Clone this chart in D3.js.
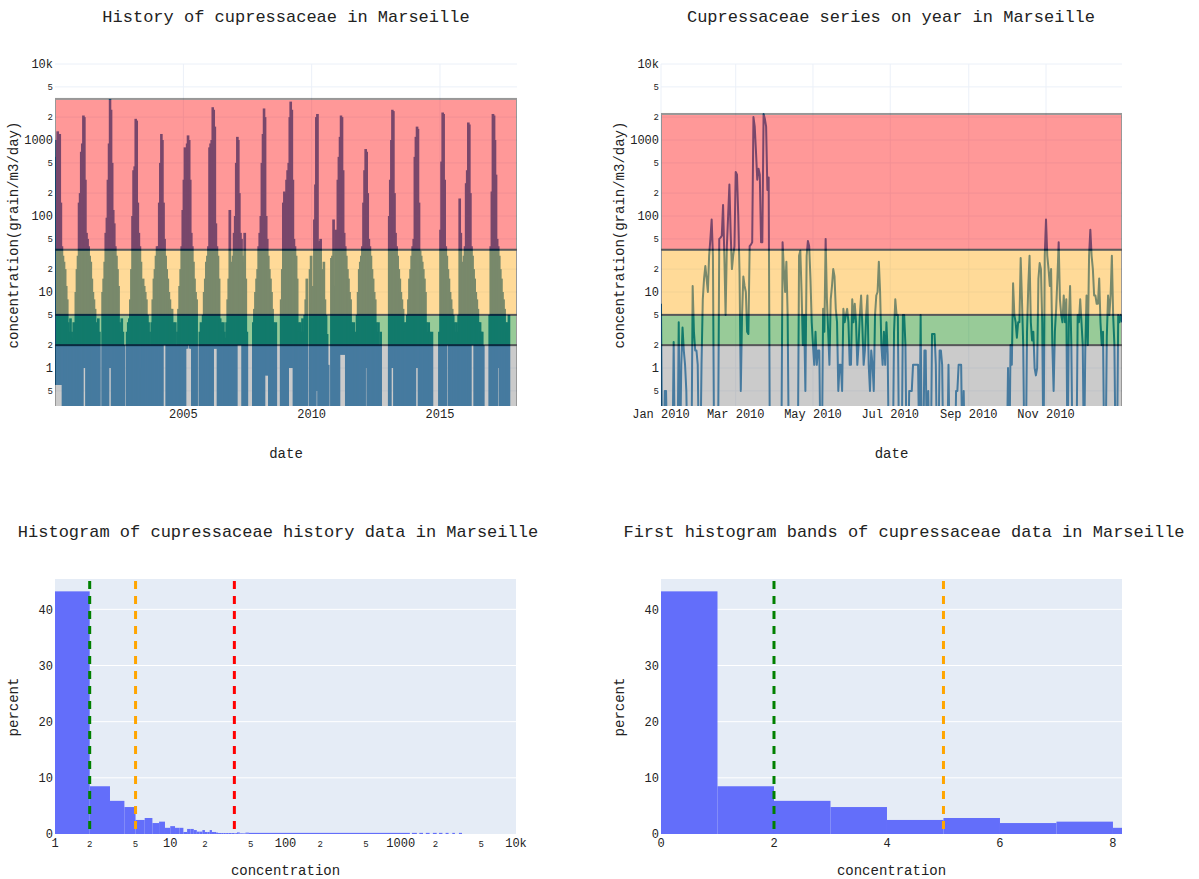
<!DOCTYPE html>
<html>
<head>
<meta charset="utf-8">
<script src="https://cdn.jsdelivr.net/npm/d3@7"></script>
<style>
  body { margin: 0; background: #fff; }
  text { font-family: "Liberation Mono", "Courier New", monospace; fill: #222; }
</style>
</head>
<body>
<svg id="chart" width="1199" height="879"></svg>
<script>
// ---- data ----
const thresholds = [2, 5, 36];
const bandColors = ["rgb(128,128,128)", "rgb(0,128,0)", "rgb(255,165,0)", "rgb(255,0,0)"];

// history: max of each half month (Jan 1-15, Jan 16-31, ...), grain/m3/day
const peaks2000 = [600, 1000, 1300, 900, 1200, 150, 40, 30, 25, 20, 12, 8, 4, 3, 4.5, 3, 2.5, 4, 3, 10, 20, 30, 150, 200];
const peaks2001 = [700, 900, 2100, 2000, 300, 60, 50, 40, 30, 25, 15, 10, 8, 6, 4, 3, 4.5, 3, 0, 0, 10, 15, 25, 60];
const peaks2002 = [95, 300, 900, 3470, 2500, 500, 120, 80, 40, 30, 20, 12, 4, 3, 4.5, 3, 2, 0, 0, 3, 4, 4.5, 8, 20];
const peaks2003 = [100, 400, 450, 1900, 1800, 150, 60, 40, 25, 4, 15, 12, 10, 8, 5, 4, 3, 2, 4, 8, 15, 20, 30, 40];
const peaks2004 = [40, 150, 500, 1200, 1000, 150, 50, 30, 20, 15, 10, 8, 6, 6, 4, 3, 4, 2, 3, 6, 12, 20, 40, 120];
const peaks2005 = [300, 800, 700, 900, 1150, 1000, 300, 60, 40, 25, 15, 10, 8, 0, 0, 3, 4, 3, 5, 10, 15, 25, 30, 40];
const peaks2006 = [800, 900, 1000, 2700, 2500, 1500, 80, 40, 30, 15, 4.5, 4, 3, 4, 3, 2.5, 4, 8, 15, 120, 20, 25, 30, 60];
const peaks2007 = [100, 500, 1100, 1000, 200, 60, 50, 30, 25, 60, 15, 3, 0, 0, 0, 0, 0, 4, 6, 10, 15, 20, 40, 60];
const peaks2008 = [100, 500, 1200, 2600, 2000, 100, 50, 30, 20, 15, 10, 6, 4, 3, 4, 0, 0, 0, 0, 8, 20, 150, 210, 200];
const peaks2009 = [300, 400, 500, 2000, 3200, 2500, 300, 50, 40, 30, 15, 4, 3, 4, 3, 4.5, 3, 5, 8, 15, 0, 0, 20, 30];
const peaks2010 = [7, 12, 90, 260, 2000, 2200, 45, 47, 50, 20, 9, 25, 8, 5, 2.8, 1.1, 0, 0, 28, 30, 90, 12, 66, 30];
const peaks2011 = [300, 600, 1100, 2100, 2000, 400, 60, 40, 30, 20, 15, 10, 8, 4, 3, 4, 3, 2, 5, 10, 20, 25, 30, 40];
const peaks2012 = [150, 400, 760, 700, 200, 50, 40, 30, 20, 15, 10, 8, 4, 3, 4, 2, 3, 0, 0, 0, 0, 0, 0, 0];
const peaks2013 = [100, 300, 1000, 2500, 2400, 200, 60, 40, 30, 20, 15, 10, 8, 6, 4, 3, 4, 5, 8, 15, 20, 30, 40, 50];
const peaks2014 = [600, 1100, 1500, 1400, 150, 35, 30, 25, 20, 15, 10, 4, 3, 4, 3, 2, 3, 0, 0, 0, 0, 0, 0, 3];
const peaks2015 = [66, 520, 2300, 2200, 300, 40, 30, 20, 15, 10, 8, 6, 5, 4, 3, 4, 3, 5, 170, 60, 20, 25, 30, 40];
const peaks2016 = [270, 400, 1700, 1600, 200, 40, 30, 20, 15, 10, 8, 6, 4, 4, 3, 3, 2, 0, 0, 0, 0, 0, 5, 40];
const peaks2017 = [210, 2200, 2100, 1000, 350, 50, 40, 30, 20, 15, 10, 8, 6, 4, 3, 4, 5];

// lowest value of the first eight half months (Jan-Apr); later ones reach 0
const lows2000 = [0.6, 0.6, 0.6, 0.6, 0.6, 0.6, 0.6, 0];
const lows2001 = [0, 0, 1, 1, 1, 0, 0, 0];
const lows2002 = [0, 0, 1, 1, 1, 0, 0, 0];
const lows2003 = [0, 0, 0, 0, 0, 0, 0, 1];
const lows2004 = [0, 0, 0, 0, 0, 2, 2, 2];
const lows2005 = [0, 0, 1.8, 1.8, 2, 2, 1.8, 1.8];
const lows2006 = [0, 0, 0, 0, 1.8, 1.8, 1.8, 1.8];
const lows2007 = [0, 0, 2, 2, 2, 2, 2, 0];
const lows2008 = [0, 0, 0, 0, 0.8, 0.8, 0.8, 0.8];
const lows2009 = [0, 0, 1, 1, 1, 1, 1, 0];
const lows2010 = [0, 0, 0, 0, 0.5, 0.5, 0, 0];
const lows2011 = [0, 0, 1.5, 1.5, 1.5, 1.5, 1.5, 1.5];
const lows2012 = [0, 0, 1, 1, 0, 0, 0, 0];
const lows2013 = [0, 0, 1, 1, 1, 0, 0, 0];
const lows2014 = [0, 1, 1, 1, 0, 0, 0, 0];
const lows2015 = [0, 0, 0, 0, 0, 0, 2, 2];
const lows2016 = [0, 0, 0, 0, 0, 2, 2, 2];
const lows2017 = [0, 0, 0, 0, 0, 0, 1, 1];

const histYears = [2000, 2001, 2002, 2003, 2004, 2005, 2006, 2007, 2008, 2009,
                   2010, 2011, 2012, 2013, 2014, 2015, 2016, 2017];
const histPeaks = [peaks2000, peaks2001, peaks2002, peaks2003, peaks2004, peaks2005,
                   peaks2006, peaks2007, peaks2008, peaks2009, peaks2010, peaks2011,
                   peaks2012, peaks2013, peaks2014, peaks2015, peaks2016, peaks2017];
const histLows = [lows2000, lows2001, lows2002, lows2003, lows2004, lows2005,
                  lows2006, lows2007, lows2008, lows2009, lows2010, lows2011,
                  lows2012, lows2013, lows2014, lows2015, lows2016, lows2017];

// daily values of 2010
const daily2010 = [
  7, 0, 0, 0.5, 0.5, 0, 0, 0, 0, 0,
  2.2, 0, 0, 0, 4, 0, 1.1, 3.4, 1.7, 1.1,
  0.5, 0, 0, 0, 0, 12, 3, 1.7, 1.7, 1.1,
  0, 0, 1.1, 8, 15, 22, 15, 10, 30, 50,
  90, 30, 0, 0, 0, 0, 50, 52, 55, 140,
  30, 5, 40, 100, 260, 60, 20, 30, 40, 380,
  350, 100, 18, 0.5, 5, 16, 12, 10, 3, 2.8,
  40, 42, 45, 2000, 1500, 700, 300, 420, 350, 45,
  45, 2200, 1900, 1500, 220, 320, 0, 0, 0, 0,
  0, 0, 0, 0, 0, 0, 45, 20, 10, 25,
  5, 0, 0, 0, 0, 0, 0, 0, 0, 30,
  35, 10, 2, 5, 0.5, 30, 47, 40, 15, 4,
  2, 1.1, 3, 1.1, 1.7, 1.7, 0, 0, 6, 3,
  50, 8, 3, 1.1, 8, 12, 20, 16, 6, 4,
  0.5, 1.1, 1.1, 0.5, 6, 4, 5, 6, 4, 1.1,
  1.1, 8, 4, 7, 4, 1.1, 2, 5, 9, 3.5,
  1.1, 1.7, 5, 9, 1.1, 0.5, 1.7, 1.1, 0.5, 5,
  9, 10, 25, 10, 2, 1.1, 3, 1.1, 4, 1.5,
  0, 0, 0, 0, 3, 8, 5, 5, 0, 0,
  0, 5, 5, 2, 0, 0, 0.5, 0.5, 0.5, 1.1,
  1.1, 1.1, 1.1, 1.1, 0, 5, 0, 0, 1.7, 1.7,
  0, 0.5, 0, 0, 2.8, 2.8, 2.8, 1.1, 0, 0,
  1.7, 1.7, 1.1, 0, 0, 0, 0, 1.1, 0, 0,
  0, 0, 0, 0.5, 0.5, 1.1, 1.1, 1.1, 0, 0.5,
  0, 0, 0, 0, 0, 0, 0, 0, 0, 0,
  0, 0, 0, 0, 0, 0, 0, 0, 0, 0,
  0, 0, 0, 0, 0, 0, 0, 0, 0, 0,
  0, 0, 0, 0, 1, 0, 2, 1.1, 13, 5,
  4, 2.5, 4, 4, 28, 8, 2, 0, 0, 3,
  12, 30, 4, 2.3, 3, 1, 0.8, 1, 15, 24,
  20, 4, 0, 30, 90, 30, 20, 12, 20, 2,
  0.5, 3, 6, 15, 45, 8, 5, 4, 9, 4,
  8, 0, 4, 12, 2, 0, 0, 0, 0, 5,
  4, 8, 4, 2, 0, 1.7, 9, 2, 30, 66,
  30, 20, 9, 9, 7, 7, 15, 4, 2, 3,
  0, 0, 2.6, 9, 5, 9, 30, 5, 2, 0,
  0, 5, 4, 5, 4
];

// histogram: percent of days per unit bin of concentration (bin n = [n, n+1))
const binPercent = [43.2, 8.5, 5.9, 4.8, 2.5, 2.85, 1.95, 2.2, 1.1, 1.4,
                    1.1, 1.1, 0.36, 0.9, 0.9, 0.7, 0.42, 0.42, 0.7, 0.36,
                    0.36, 0.7, 0.36, 0.36, 0.25, 0.18, 0.18, 0.18, 0.18, 0.18,
                    0.18, 0.18, 0.18, 0.18, 0.18, 0.15, 0.15, 0.3, 0.3, 0.12,
                    0.12, 0.12, 0.12, 0.12, 0.25, 0.25, 0.25];
// far tail of the history histogram, grouped
const tailFrom = [48, 1250, 1450, 1650, 1900, 2150, 2450, 2800, 3200];
const tailTo = [1200, 1380, 1560, 1780, 2050, 2300, 2600, 2950, 3400];
const tailPct = [0.2, 0.2, 0.2, 0.2, 0.2, 0.2, 0.2, 0.2, 0.2];

const logTicks = [0.5, 1, 2, 5, 10, 20, 50, 100, 200, 500, 1000, 2000, 5000, 10000];
const histLogTicks = [1, 2, 5, 10, 20, 50, 100, 200, 500, 1000, 2000, 5000, 10000];
const yearTicks = [2005, 2010, 2015];
const monthTicks = ["2010-01-01", "2010-03-01", "2010-05-01", "2010-07-01", "2010-09-01", "2010-11-01"];
const pctTicks = [0, 10, 20, 30, 40];
const linTicks = [0, 2, 4, 6, 8];

// ---- drawing ----
const svg = d3.select("#chart");
const lineBlue = "#1f77b4";
const gridCol = "#ebf0f8";

function logLabel(v) {
    const e = Math.round(Math.log10(v));
    if (Math.abs(v - Math.pow(10, e)) < 1e-9) return v === 10000 ? "10k" : String(v);
    return String(Math.round(v / Math.pow(10, Math.floor(Math.log10(v)))));
}
function isDecade(v) {
    return Math.abs(Math.log10(v) - Math.round(Math.log10(v))) < 1e-9;
}

function title(x, y, txt) {
    svg.append("text").attr("x", x).attr("y", y).attr("text-anchor", "middle")
        .attr("font-size", 17).text(txt);
}
function yTitle(x, y, txt) {
    svg.append("text").attr("transform", `translate(${x},${y}) rotate(-90)`)
        .attr("text-anchor", "middle").attr("dominant-baseline", "central")
        .attr("font-size", 14).text(txt);
}

// time series panel with the alert bands
function seriesPanel(id, left, right, xDomain, draw, maxVal, xTicks, xFormat) {
    const top = 64, bottom = 406;
    const x = d3.scaleTime().domain(xDomain).range([left, right]);
    const y = d3.scaleLog().domain([Math.pow(10, -0.5), 10000]).range([bottom, top]);
    const g = svg.append("g");

    svg.append("clipPath").attr("id", id).append("rect")
        .attr("x", left).attr("y", top).attr("width", right - left).attr("height", bottom - top);

    // grid
    g.selectAll(".hg").data(logTicks).enter().append("line")
        .attr("x1", left).attr("x2", right).attr("y1", d => y(d)).attr("y2", d => y(d))
        .attr("stroke", gridCol).attr("stroke-width", 1);
    g.selectAll(".vg").data(xTicks).enter().append("line")
        .attr("x1", d => x(d)).attr("x2", d => x(d)).attr("y1", top).attr("y2", bottom)
        .attr("stroke", gridCol).attr("stroke-width", 1);

    const plot = g.append("g").attr("clip-path", `url(#${id})`);
    draw(plot, x, y, bottom);

    // alert bands over the data
    const lows = [0].concat(thresholds);
    const highs = thresholds.concat([maxVal]);
    plot.selectAll(".band").data(bandColors).enter().append("rect")
        .attr("x", left).attr("width", right - left)
        .attr("y", (d, i) => y(highs[i]))
        .attr("height", (d, i) => (lows[i] > 0 ? y(lows[i]) : bottom + 20) - y(highs[i]))
        .attr("fill", d => d).attr("stroke", "#000").attr("stroke-width", 2)
        .attr("opacity", 0.4);

    // y tick labels
    g.selectAll(".yl").data(logTicks).enter().append("text")
        .attr("x", left - 2).attr("y", d => y(d)).attr("dy", "0.35em")
        .attr("text-anchor", "end")
        .attr("font-size", d => isDecade(d) ? 12 : 9)
        .text(logLabel);
    // x tick labels
    g.selectAll(".xl").data(xTicks).enter().append("text")
        .attr("x", d => x(d)).attr("y", 418).attr("text-anchor", "middle")
        .attr("font-size", 12).text(xFormat);

    svg.append("text").attr("x", (left + right) / 2).attr("y", 458)
        .attr("text-anchor", "middle").attr("font-size", 14).text("date");
    yTitle(left - 41, 235, "concentration(grain/m3/day)");
}

// history, one bar per half month from its low to its max
seriesPanel("clipHist", 55, 517, [new Date(2000, 0, 1), new Date(2018, 0, 1)],
    function (plot, x, y, bottom) {
        const rows = [];
        histPeaks.forEach((arr, k) => {
            arr.forEach((v, i) => {
                const m = Math.floor(i / 2);
                const s = i % 2 ? new Date(histYears[k], m, 16) : new Date(histYears[k], m, 1);
                const e = i % 2 ? new Date(histYears[k], m + 1, 1) : new Date(histYears[k], m, 16);
                const lo = histLows[k][i] || 0;
                if (v > 0) rows.push({ s: s, e: e, v: v, lo: lo });
            });
        });
        // full-depth bars first, raised ones on top so their gap stays visible
        rows.sort((a, b) => (a.lo > 0) - (b.lo > 0));
        plot.selectAll(".hb").data(rows.filter(d => d.lo === 0)).enter().append("rect")
            .attr("x", d => x(d.s) - 0.8)
            .attr("width", d => x(d.e) - x(d.s) + 1.6)
            .attr("y", d => y(d.v))
            .attr("height", d => bottom + 5 - y(d.v))
            .attr("fill", lineBlue);
        plot.selectAll(".hr").data(rows.filter(d => d.lo > 0)).enter().append("rect")
            .attr("x", d => x(d.s) - 0.8)
            .attr("width", d => x(d.e) - x(d.s) + 1.6)
            .attr("y", d => y(d.v))
            .attr("height", d => y(d.lo) - y(d.v))
            .attr("fill", lineBlue);
    },
    d3.max(histPeaks, a => d3.max(a)),
    yearTicks.map(yr => new Date(yr, 0, 1)),
    d => String(d.getFullYear()));

// one year of daily values
seriesPanel("clipYear", 661, 1122, [new Date(2010, 0, 1), new Date(2010, 11, 31)],
    function (plot, x, y, bottom) {
        const line = d3.line()
            .x((d, i) => x(new Date(2010, 0, 1 + i)))
            .y(d => d > 0 ? y(d) : bottom + 60);
        plot.append("path").datum(daily2010).attr("d", line)
            .attr("fill", "none").attr("stroke", lineBlue).attr("stroke-width", 2)
            .attr("stroke-linejoin", "round");
    },
    d3.max(daily2010),
    monthTicks.map(s => d3.timeParse("%Y-%m-%d")(s)),
    d3.timeFormat("%b %Y"));

title(286, 22, "History of cupressaceae in Marseille");
title(891, 22, "Cupressaceae series on year in Marseille");

// histogram panels
function histPanel(id, left, right, x, bins, lines, xTicks, xFmt, xSize) {
    const top = 579, bottom = 834;
    const y = d3.scaleLinear().domain([0, 45.4]).range([bottom, top]);
    const g = svg.append("g");
    g.append("rect").attr("x", left).attr("y", top).attr("width", right - left)
        .attr("height", bottom - top).attr("fill", "#e5ecf6");
    g.selectAll(".hg").data(pctTicks.slice(1)).enter().append("line")
        .attr("x1", left).attr("x2", right).attr("y1", d => y(d)).attr("y2", d => y(d))
        .attr("stroke", "#fff").attr("stroke-width", 1);

    svg.append("clipPath").attr("id", id).append("rect")
        .attr("x", left).attr("y", top).attr("width", right - left).attr("height", bottom - top);
    const plot = g.append("g").attr("clip-path", `url(#${id})`);
    plot.selectAll(".bar").data(bins).enter().append("rect")
        .attr("x", d => x(d.a)).attr("width", d => x(d.b) - x(d.a))
        .attr("y", d => y(d.p)).attr("height", d => bottom - y(d.p))
        .attr("fill", "#636efa");
    plot.selectAll(".vl").data(lines).enter().append("line")
        .attr("x1", d => x(d.v)).attr("x2", d => x(d.v))
        .attr("y1", top + 2).attr("y2", bottom)
        .attr("stroke", d => d.c).attr("stroke-width", 3).attr("stroke-dasharray", "8,7");

    g.selectAll(".yl").data(pctTicks).enter().append("text")
        .attr("x", left - 2).attr("y", d => y(d)).attr("dy", "0.35em")
        .attr("text-anchor", "end").attr("font-size", 12).text(d => d);
    g.selectAll(".xl").data(xTicks).enter().append("text")
        .attr("x", d => x(d)).attr("y", 847).attr("text-anchor", "middle")
        .attr("font-size", xSize).text(xFmt);

    svg.append("text").attr("x", (left + right) / 2).attr("y", 875)
        .attr("text-anchor", "middle").attr("font-size", 14).text("concentration");
    yTitle(left - 41, 707, "percent");
}

const xHistLog = d3.scaleLog().domain([1, 10000]).range([55, 516]);
const logBins = binPercent.map((p, n) => ({ a: n + 1, b: n + 2, p: p }))
    .concat(tailFrom.map((a, i) => ({ a: a, b: tailTo[i], p: tailPct[i] })));
histPanel("clipH1", 55, 516, xHistLog, logBins,
    [{ v: 2, c: "green" }, { v: 5, c: "orange" }, { v: thresholds[2], c: "red" }],
    histLogTicks, logLabel, d => isDecade(d) ? 12 : 9);

const xHistLin = d3.scaleLinear().domain([0, 8.16]).range([661, 1122]);
const linBins = binPercent.slice(0, 10).map((p, n) => ({ a: n, b: n + 1, p: p }));
histPanel("clipH2", 661, 1122, xHistLin, linBins,
    [{ v: 2, c: "green" }, { v: 5, c: "orange" }],
    linTicks, d => d, 12);

title(278, 537, "Histogram of cupressaceae history data in Marseille");
title(904, 537, "First histogram bands of cupressaceae data in Marseille");
</script>
</body>
</html>
